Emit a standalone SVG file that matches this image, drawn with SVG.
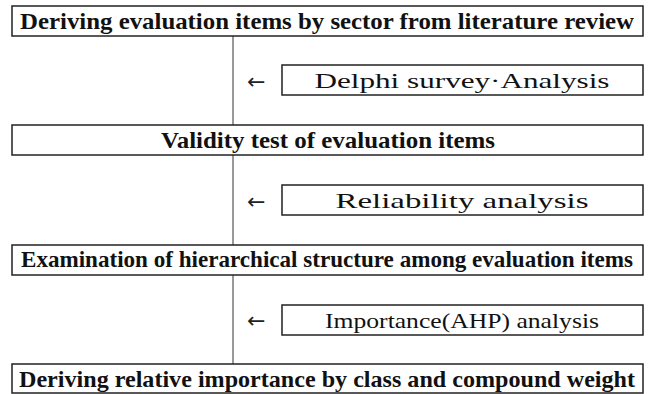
<svg xmlns="http://www.w3.org/2000/svg" width="653" height="394" viewBox="0 0 653 394">
  <style>
    .box { fill: #ffffff; stroke: #222222; stroke-width: 1.5; }
    .step { font-family: "Liberation Serif", "Times New Roman", serif; font-weight: bold; font-size: 24px; fill: #111111; text-anchor: middle; }
    .method { font-family: "Liberation Serif", "Times New Roman", serif; font-size: 22px; fill: #111111; text-anchor: middle; }
    .arrow { font-family: "DejaVu Sans", sans-serif; font-size: 22px; fill: #222222; }
    .link { stroke: #555555; stroke-width: 1.2; fill: none; }
  </style>
  <rect width="653" height="394" fill="#ffffff"/>

  <!-- flow line between main steps, with side arrows pointing at it -->
  <g id="connectors">
    <line class="link" x1="233" y1="36" x2="233" y2="125"/>
    <line class="link" x1="233" y1="155" x2="233" y2="245"/>
    <line class="link" x1="233" y1="275" x2="233" y2="364"/>
    <text class="arrow" x="247" y="89">←</text>
    <text class="arrow" x="247" y="209">←</text>
    <text class="arrow" x="247" y="328">←</text>
  </g>

  <g id="step1">
    <rect class="box" x="12" y="6" width="631" height="30"/>
    <text class="step" x="327" y="29" textLength="614" lengthAdjust="spacingAndGlyphs">Deriving  evaluation  items  by  sector  from  literature  review</text>
  </g>

  <g id="method1">
    <rect class="box" x="282" y="65" width="361" height="30"/>
    <text class="method" x="462" y="88" textLength="295" lengthAdjust="spacingAndGlyphs">Delphi  survey·Analysis</text>
  </g>

  <g id="step2">
    <rect class="box" x="12" y="125" width="631" height="30"/>
    <text class="step" x="328" y="148" textLength="334" lengthAdjust="spacingAndGlyphs">Validity  test  of  evaluation  items</text>
  </g>

  <g id="method2">
    <rect class="box" x="282" y="185" width="361" height="30"/>
    <text class="method" x="462" y="208" textLength="253" lengthAdjust="spacingAndGlyphs">Reliability  analysis</text>
  </g>

  <g id="step3">
    <rect class="box" x="12" y="245" width="631" height="30"/>
    <text class="step" x="327" y="267" font-size="22" textLength="612" lengthAdjust="spacingAndGlyphs">Examination of hierarchical structure among evaluation items</text>
  </g>

  <g id="method3">
    <rect class="box" x="282" y="305" width="361" height="30"/>
    <text class="method" x="462" y="328" textLength="274" lengthAdjust="spacingAndGlyphs">Importance(AHP)  analysis</text>
  </g>

  <g id="step4">
    <rect class="box" x="12" y="364" width="631" height="29"/>
    <text class="step" x="327" y="387" textLength="616" lengthAdjust="spacingAndGlyphs">Deriving  relative  importance  by  class  and  compound  weight</text>
  </g>
</svg>
